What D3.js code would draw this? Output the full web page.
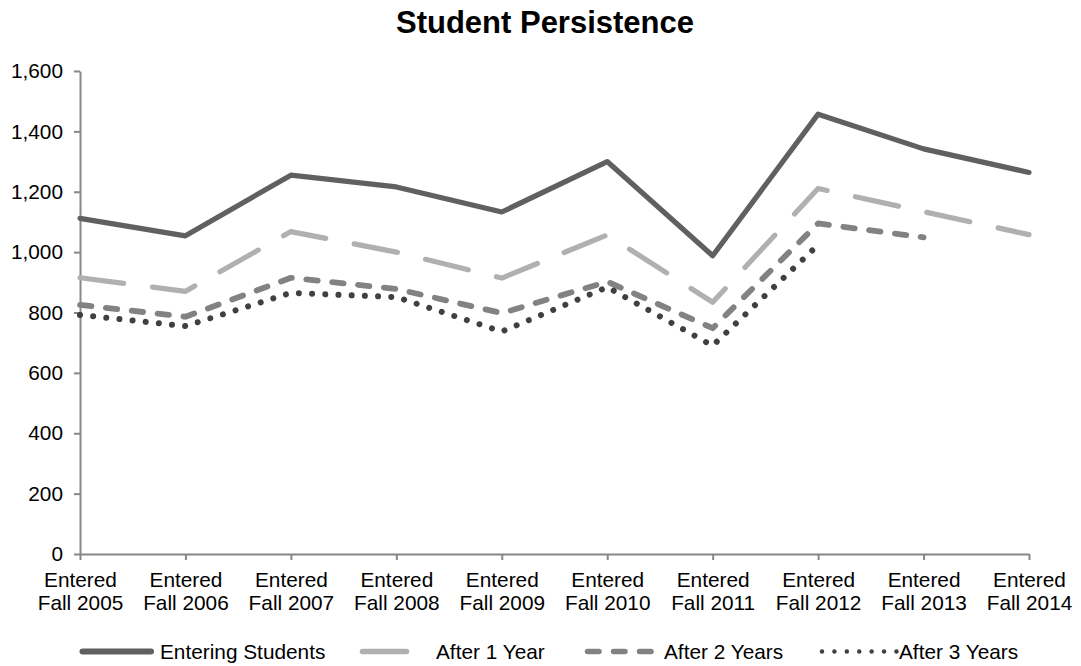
<!DOCTYPE html>
<html>
<head>
<meta charset="utf-8">
<script src="https://cdn.jsdelivr.net/npm/d3@7"></script>
<style>
  html, body { margin: 0; padding: 0; background: #fff; }
  svg { display: block; font-family: "Liberation Sans", Arial, sans-serif; }
</style>
</head>
<body>
<svg id="chart" width="1081" height="666"></svg>
<script>
// ---- data ----
const categories = ["Entered Fall 2005", "Entered Fall 2006", "Entered Fall 2007", "Entered Fall 2008",
  "Entered Fall 2009", "Entered Fall 2010", "Entered Fall 2011", "Entered Fall 2012",
  "Entered Fall 2013", "Entered Fall 2014"];
const enteringStudents = [1112, 1054, 1255, 1216, 1133, 1300, 988, 1457, 1342, 1264];
const after1Year = [915, 870, 1068, 1000, 914, 1057, 834, 1211, 1134, 1058];
const after2Years = [825, 786, 915, 878, 798, 902, 748, 1095, 1049, null];
const after3Years = [792, 755, 865, 851, 737, 884, 690, 1024, null, null];
const seriesNames = ["Entering Students", "After 1 Year", "After 2 Years", "After 3 Years"];
const yTicks = [0, 200, 400, 600, 800, 1000, 1200, 1400, 1600];
const titleText = "Student Persistence";

// ---- styles ----
const styles = [
  { color: "#606060", width: 5.2, dash: null },
  { color: "#b0b0b0", width: 5.2, dash: "44,29" },
  { color: "#828282", width: 5.8, dash: "11.5,14.5" },
  { color: "#404040", width: 6, dash: "0.01,13.2" }
];
const seriesData = [enteringStudents, after1Year, after2Years, after3Years];

const svg = d3.select("#chart");
const x = d3.scalePoint().domain(categories).range([80, 1029]).padding(0);
const y = d3.scaleLinear().domain([0, 1600]).range([554, 71]);

// title
svg.append("text")
  .attr("x", 545).attr("y", 33)
  .attr("text-anchor", "middle")
  .attr("font-size", "31px").attr("font-weight", "bold").attr("fill", "#000")
  .text(titleText);

// y axis
const yAxis = svg.append("g").attr("transform", "translate(80,0)")
  .call(d3.axisLeft(y).tickValues(yTicks).tickFormat(d3.format(",")).tickSize(6).tickSizeOuter(0).tickPadding(11));
yAxis.select(".domain").attr("stroke", "#878787").attr("stroke-width", 2);
yAxis.selectAll(".tick line").attr("stroke", "#878787").attr("stroke-width", 2);
yAxis.selectAll(".tick text").attr("font-size", "20.8px").attr("fill", "#000")
  .attr("font-family", "'Liberation Sans', Arial, sans-serif");

// x axis
const xAxis = svg.append("g").attr("transform", "translate(0,554)")
  .call(d3.axisBottom(x).tickSize(6).tickSizeOuter(0).tickFormat(""));
xAxis.select(".domain").attr("stroke", "#878787").attr("stroke-width", 2);
xAxis.selectAll(".tick line").attr("stroke", "#878787").attr("stroke-width", 2);
xAxis.selectAll(".tick").each(function(d) {
  const parts = d.split(" ");
  const t = d3.select(this).append("text")
    .attr("text-anchor", "middle").attr("font-size", "20.8px").attr("fill", "#000")
    .attr("font-family", "'Liberation Sans', Arial, sans-serif");
  t.append("tspan").attr("x", 0).attr("y", 33).text(parts[0]);
  t.append("tspan").attr("x", 0).attr("y", 56).text(parts.slice(1).join(" "));
});

// lines
const line = d3.line()
  .defined(d => d != null)
  .x((d, i) => x(categories[i]))
  .y(d => y(d));

seriesData.forEach((vals, k) => {
  const s = styles[k];
  svg.append("path")
    .attr("d", line(vals))
    .attr("fill", "none")
    .attr("stroke", s.color)
    .attr("stroke-width", s.width)
    .attr("stroke-linecap", "round")
    .attr("stroke-linejoin", "round")
    .attr("stroke-dasharray", s.dash);
});

// legend
const legendItems = [
  { x1: 82.5, x2: 151, tx: 160 },
  { x1: 362.5, x2: 428, tx: 436 },
  { x1: 587.5, x2: 655, tx: 664 },
  { x1: 822, x2: 897, tx: 899 }
];
const legendDash = ["none", "44,29", "11.5,14.5", "0.01,12.4"];
const legendWidth = [6, 5.5, 5.5, 4.5];
legendItems.forEach((it, k) => {
  svg.append("line")
    .attr("x1", it.x1).attr("x2", it.x2).attr("y1", 651.5).attr("y2", 651.5)
    .attr("stroke", styles[k].color).attr("stroke-width", legendWidth[k])
    .attr("stroke-linecap", "round")
    .attr("stroke-dasharray", legendDash[k]);
  svg.append("text")
    .attr("x", it.tx).attr("y", 658.5)
    .attr("font-size", "20.8px").attr("fill", "#000")
    .text(seriesNames[k]);
});
</script>
</body>
</html>
